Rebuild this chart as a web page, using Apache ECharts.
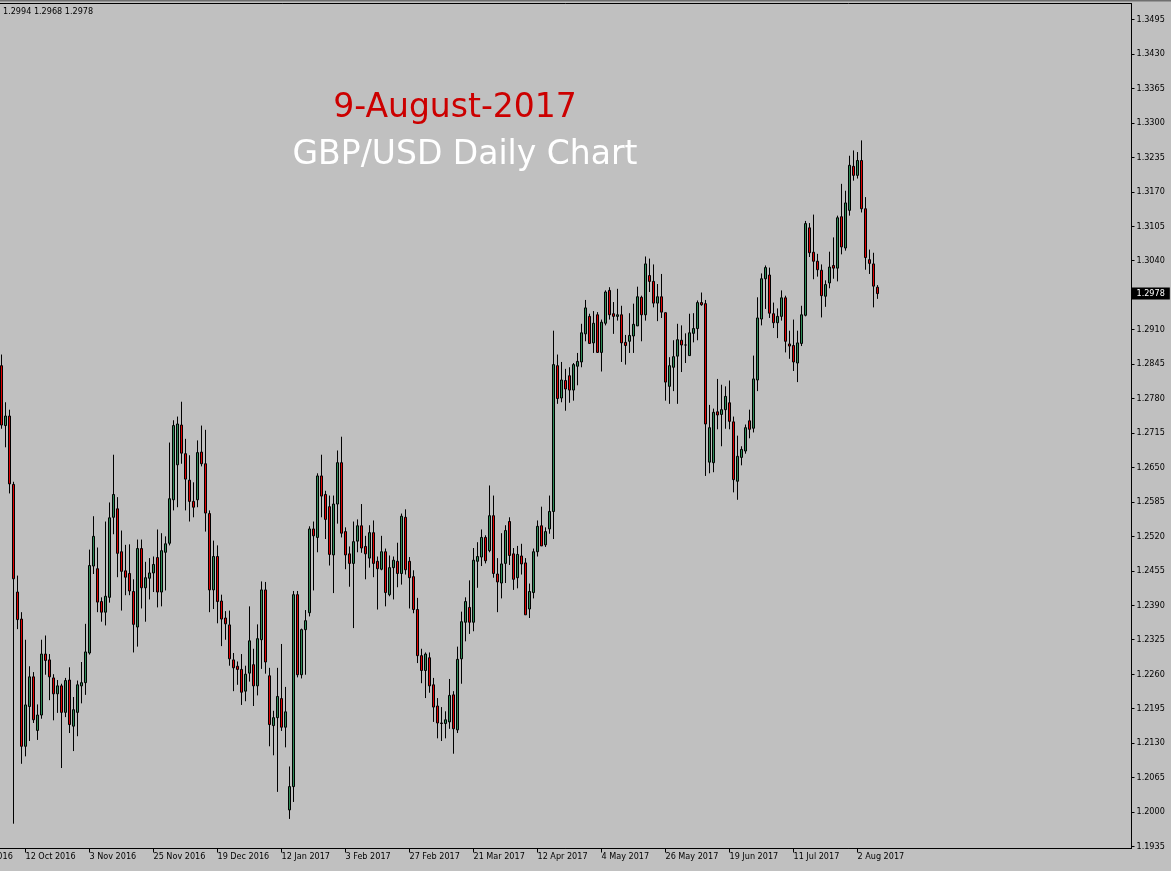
<!DOCTYPE html>
<html><head><meta charset="utf-8">
<script src="https://cdn.jsdelivr.net/npm/echarts@6/dist/echarts.min.js"></script>
<style>html,body{margin:0;padding:0;background:#c0c0c0;overflow:hidden}#c{width:1171px;height:871px;}</style>
</head><body><div id="c"></div>
<script>
// ---- data ----
const tickLabels = ['20 Sep 2016','12 Oct 2016','3 Nov 2016','25 Nov 2016','19 Dec 2016','12 Jan 2017','3 Feb 2017','27 Feb 2017','21 Mar 2017','12 Apr 2017','4 May 2017','26 May 2017','19 Jun 2017','11 Jul 2017','2 Aug 2017'];
const priceTicks = [1.1935,1.2000,1.2065,1.2130,1.2195,1.2260,1.2325,1.2390,1.2455,1.2520,1.2585,1.2650,1.2715,1.2780,1.2845,1.2910,1.2975,1.3040,1.3105,1.3170,1.3235,1.3300,1.3365,1.3430,1.3495];
const headerValues = [1.2994, 1.2968, 1.2978];
const titleDate = '9-August-2017';
const titleMain = 'GBP/USD Daily Chart';

const open = [
1.2842,1.2729,1.2747,1.2618,1.2415,1.2364,1.2124,1.2199,1.2255,1.2154,
1.2183,1.2298,1.2287,1.2253,1.2223,1.2238,1.2188,1.2249,1.2162,1.2188,
1.2238,1.2244,1.2300,1.2464,1.2459,1.2397,1.2377,1.2405,1.2556,1.2572,
1.2491,1.2455,1.2450,1.2416,1.2349,1.2497,1.2423,1.2441,1.2451,1.2480,
1.2415,1.2490,1.2507,1.2589,1.2655,1.2730,1.2676,1.2626,1.2586,1.2589,
1.2679,1.2657,1.2563,1.2419,1.2482,1.2398,1.2366,1.2353,1.2287,1.2275,
1.2269,1.2228,1.2262,1.2278,1.2238,1.2325,1.2419,1.2257,1.2163,1.2178,
1.2214,1.2160,1.2004,1.2048,1.2410,1.2259,1.2344,1.2376,1.2534,1.2518,
1.2634,1.2599,1.2576,1.2485,1.2581,1.2659,1.2529,1.2487,1.2469,1.2511,
1.2540,1.2501,1.2479,1.2527,1.2473,1.2458,1.2491,1.2410,1.2461,1.2473,
1.2450,1.2556,1.2473,1.2444,1.2382,1.2295,1.2267,1.2291,1.2240,1.2200,
1.2168,1.2167,1.2170,1.2221,1.2155,1.2289,1.2358,1.2386,1.2358,1.2473,
1.2481,1.2518,1.2493,1.2559,1.2449,1.2432,1.2469,1.2548,1.2487,1.2442,
1.2483,1.2470,1.2383,1.2414,1.2491,1.2540,1.2504,1.2534,1.2567,1.2842,
1.2781,1.2814,1.2823,1.2796,1.2841,1.2849,1.2902,1.2935,1.2885,1.2938,
1.2867,1.2922,1.2984,1.2940,1.2935,1.2938,1.2886,1.2888,1.2898,1.2917,
1.2971,1.2938,1.3012,1.3001,1.2960,1.2972,1.2942,1.2803,1.2839,1.2860,
1.2890,1.2881,1.2861,1.2903,1.2912,1.2961,1.2959,1.2660,1.2659,1.2755,
1.2750,1.2759,1.2772,1.2736,1.2624,1.2669,1.2681,1.2738,1.2724,1.2815,
1.2930,1.3006,1.3013,1.2940,1.2923,1.2935,1.2970,1.2883,1.2880,1.2847,
1.2884,1.2937,1.3102,1.3056,1.3039,1.3022,1.2973,1.2998,1.3031,1.3026,
1.3123,1.3064,1.3135,1.3218,1.3201,1.3229,1.3138,1.3042,1.3034,1.2990];
const high = [
1.2863,1.2773,1.2759,1.2623,1.2446,1.2377,1.2325,1.2275,1.2264,1.2203,
1.2325,1.2333,1.2298,1.2260,1.2249,1.2242,1.2253,1.2273,1.2217,1.2248,
1.2283,1.2355,1.2495,1.2558,1.2499,1.2405,1.2548,1.2584,1.2674,1.2594,
1.2531,1.2504,1.2505,1.2439,1.2514,1.2514,1.2472,1.2479,1.2482,1.2533,
1.2526,1.2520,1.2697,1.2739,1.2746,1.2774,1.2704,1.2673,1.2622,1.2701,
1.2729,1.2721,1.2569,1.2512,1.2503,1.2410,1.2379,1.2380,1.2300,1.2284,
1.2298,1.2276,1.2388,1.2308,1.2354,1.2435,1.2434,1.2272,1.2191,1.2272,
1.2317,1.2236,1.2086,1.2417,1.2417,1.2346,1.2381,1.2539,1.2548,1.2639,
1.2674,1.2606,1.2597,1.2597,1.2682,1.2708,1.2537,1.2501,1.2548,1.2552,
1.2581,1.2521,1.2541,1.2550,1.2482,1.2521,1.2497,1.2484,1.2482,1.2508,
1.2563,1.2571,1.2481,1.2456,1.2404,1.2308,1.2301,1.2301,1.2253,1.2215,
1.2198,1.2190,1.2251,1.2228,1.2312,1.2378,1.2405,1.2437,1.2498,1.2509,
1.2533,1.2522,1.2616,1.2597,1.2479,1.2526,1.2541,1.2556,1.2498,1.2502,
1.2506,1.2479,1.2431,1.2497,1.2550,1.2576,1.2537,1.2597,1.2908,1.2863,
1.2849,1.2836,1.2839,1.2847,1.2866,1.2921,1.2966,1.2940,1.2945,1.2943,
1.2929,1.2984,1.2990,1.2962,1.2987,1.2955,1.2900,1.2941,1.2959,1.2991,
1.2974,1.3048,1.3044,1.3033,1.2996,1.3015,1.2942,1.2858,1.2890,1.2921,
1.2918,1.2903,1.2940,1.2941,1.2965,1.2980,1.2966,1.2768,1.2761,1.2817,
1.2806,1.2803,1.2814,1.2746,1.2710,1.2690,1.2731,1.2759,1.2861,1.2971,
1.3016,1.3031,1.3027,1.2961,1.2950,1.2984,1.2974,1.2908,1.2929,1.2908,
1.2955,1.3115,1.3111,1.3127,1.3053,1.3033,1.3003,1.3057,1.3084,1.3125,
1.3185,1.3172,1.3238,1.3248,1.3245,1.3267,1.3160,1.3061,1.3055,1.2994];
const low = [
1.2723,1.2688,1.2601,1.1978,1.2345,1.2091,1.2105,1.2134,1.2168,1.2136,
1.2176,1.2259,1.2211,1.2173,1.2187,1.2083,1.2179,1.2149,1.2115,1.2143,
1.2205,1.2221,1.2297,1.2449,1.2377,1.2359,1.2352,1.2395,1.2524,1.2443,
1.2380,1.2409,1.2409,1.2301,1.2312,1.2384,1.2359,1.2401,1.2415,1.2386,
1.2388,1.2418,1.2503,1.2569,1.2575,1.2657,1.2569,1.2548,1.2556,1.2575,
1.2652,1.2529,1.2377,1.2383,1.2356,1.2313,1.2325,1.2276,1.2228,1.2240,
1.2202,1.2209,1.2246,1.2200,1.2220,1.2270,1.2261,1.2124,1.2107,1.2038,
1.2153,1.2122,1.1987,1.2019,1.2254,1.2252,1.2259,1.2369,1.2418,1.2490,
1.2556,1.2515,1.2465,1.2413,1.2544,1.2518,1.2458,1.2425,1.2347,1.2490,
1.2489,1.2439,1.2461,1.2443,1.2382,1.2456,1.2388,1.2407,1.2401,1.2424,
1.2429,1.2448,1.2384,1.2375,1.2281,1.2243,1.2215,1.2225,1.2170,1.2139,
1.2134,1.2139,1.2157,1.2110,1.2149,1.2242,1.2322,1.2336,1.2341,1.2423,
1.2464,1.2469,1.2490,1.2442,1.2377,1.2403,1.2432,1.2466,1.2419,1.2422,
1.2448,1.2372,1.2366,1.2403,1.2482,1.2502,1.2500,1.2525,1.2515,1.2770,
1.2773,1.2757,1.2772,1.2776,1.2805,1.2839,1.2888,1.2883,1.2866,1.2866,
1.2831,1.2918,1.2929,1.2902,1.2927,1.2849,1.2844,1.2866,1.2866,1.2917,
1.2888,1.2927,1.2981,1.2952,1.2926,1.2932,1.2776,1.2770,1.2794,1.2770,
1.2830,1.2847,1.2861,1.2886,1.2890,1.2955,1.2634,1.2639,1.2641,1.2722,
1.2690,1.2723,1.2722,1.2603,1.2589,1.2654,1.2676,1.2705,1.2716,1.2794,
1.2918,1.2949,1.2932,1.2913,1.2894,1.2927,1.2867,1.2855,1.2832,1.2811,
1.2879,1.2935,1.3047,1.3005,1.3010,1.2933,1.2953,1.2988,1.3006,1.3001,
1.3052,1.3059,1.3125,1.3191,1.3195,1.3131,1.3023,1.3015,1.2952,1.2968];
const close = [
1.2730,1.2747,1.2619,1.2440,1.2363,1.2124,1.2202,1.2255,1.2174,1.2183,
1.2298,1.2286,1.2255,1.2223,1.2238,1.2188,1.2248,1.2165,1.2193,1.2240,
1.2244,1.2302,1.2465,1.2520,1.2396,1.2377,1.2407,1.2555,1.2599,1.2488,
1.2454,1.2443,1.2417,1.2354,1.2497,1.2423,1.2442,1.2451,1.2467,1.2415,
1.2493,1.2506,1.2591,1.2729,1.2732,1.2677,1.2628,1.2586,1.2575,1.2678,
1.2657,1.2564,1.2419,1.2482,1.2397,1.2364,1.2355,1.2289,1.2272,1.2269,
1.2226,1.2260,1.2323,1.2238,1.2327,1.2419,1.2283,1.2165,1.2178,1.2218,
1.2160,1.2189,1.2048,1.2410,1.2259,1.2344,1.2361,1.2534,1.2521,1.2634,
1.2596,1.2552,1.2486,1.2581,1.2659,1.2526,1.2485,1.2469,1.2510,1.2540,
1.2498,1.2487,1.2527,1.2469,1.2459,1.2491,1.2414,1.2461,1.2475,1.2450,
1.2558,1.2457,1.2442,1.2382,1.2295,1.2267,1.2298,1.2238,1.2198,1.2168,
1.2167,1.2174,1.2220,1.2157,1.2288,1.2359,1.2397,1.2358,1.2475,1.2482,
1.2518,1.2474,1.2559,1.2450,1.2434,1.2468,1.2531,1.2484,1.2439,1.2486,
1.2468,1.2372,1.2416,1.2491,1.2539,1.2502,1.2529,1.2567,1.2844,1.2780,
1.2815,1.2798,1.2796,1.2844,1.2850,1.2904,1.2951,1.2884,1.2922,1.2867,
1.2924,1.2981,1.2938,1.2935,1.2938,1.2885,1.2880,1.2899,1.2920,1.2972,
1.2938,1.3034,1.3001,1.2960,1.2972,1.2943,1.2811,1.2842,1.2859,1.2891,
1.2881,1.2881,1.2904,1.2912,1.2961,1.2957,1.2732,1.2725,1.2754,1.2749,
1.2759,1.2784,1.2737,1.2627,1.2671,1.2684,1.2725,1.2722,1.2817,1.2932,
1.3006,1.3027,1.2941,1.2923,1.2935,1.2970,1.2888,1.2879,1.2849,1.2885,
1.2938,1.3110,1.3055,1.3039,1.3023,1.2974,1.2995,1.3028,1.3026,1.3121,
1.3066,1.3149,1.3220,1.3201,1.3229,1.3138,1.3046,1.3035,1.2992,1.2978];

// ---- layout config ----
const leadingBars = 10;     // bars scrolled off the left edge (first label is cut)
const totalSlots = 293;     // bars incl. the hidden ones and the right chart shift
const barsPerLabel = 16;
const FONT = "'DejaVu Sans Condensed','DejaVu Sans',sans-serif";

const categories = [];
for (let k = 0; k < totalSlots; k++) {
  const li = k / barsPerLabel;
  categories.push(Number.isInteger(li) && li < tickLabels.length ? tickLabels[li] : '');
}
const candleData = [];
for (let k = 0; k < leadingBars; k++) candleData.push(['-','-','-','-']);
for (let i = 0; i < open.length; i++) candleData.push([open[i], close[i], low[i], high[i]]);

const lastClose = close[close.length - 1];
const showTick = (idx, val) => val !== '';

const chart = echarts.init(document.getElementById('c'), null, {renderer: 'canvas'});
chart.setOption({
  animation: false,
  backgroundColor: '#c0c0c0',
  grid: {left: -40.5, right: 39.5, top: 3.5, bottom: 22.5, containLabel: false, outerBoundsMode: 'none',
         show: true, borderColor: '#000', borderWidth: 1, backgroundColor: 'transparent'},
  xAxis: {
    type: 'category', data: categories, boundaryGap: true,
    axisLine: {show: true, lineStyle: {color: '#000', width: 1}},
    axisTick: {show: true, interval: showTick, alignWithLabel: true, length: 4, lineStyle: {color: '#000'}},
    axisLabel: {show: true, interval: showTick, align: 'left', margin: 4, color: '#000', fontFamily: FONT, fontSize: 9, hideOverlap: false},
    splitLine: {show: false}
  },
  yAxis: {
    type: 'value', position: 'right', min: 1.19312, max: 1.35252, scale: true,
    axisLine: {show: true, lineStyle: {color: '#000', width: 1}},
    axisTick: {show: true, inside: false, length: 3, customValues: priceTicks, lineStyle: {color: '#000'}},
    axisLabel: {show: true, margin: 5, customValues: priceTicks, formatter: v => v.toFixed(4), color: '#000', fontFamily: FONT, fontSize: 9},
    splitLine: {show: false}
  },
  series: [{
    type: 'candlestick',
    data: candleData,
    barWidth: 2,
    clip: false,
    itemStyle: {color: '#2e8b57', color0: '#e00000', borderColor: '#000', borderColor0: '#000', borderWidth: 1},
    markLine: {
      silent: true, symbol: ['none', 'none'], animation: false, precision: 4,
      lineStyle: {color: 'rgba(0,0,0,0)', width: 1, type: 'solid'},
      label: {show: true, position: 'end', distance: 0, formatter: lastClose.toFixed(4), color: '#fff', backgroundColor: '#000', padding: [2, 5, 1, 5], fontFamily: FONT, fontSize: 9},
      emphasis: {disabled: true},
      data: [{yAxis: lastClose}]
    }
  }],
  graphic: [
    {type: 'rect', shape: {x: 0, y: 0, width: 1171, height: 1.5}, style: {fill: '#6e6e6e'}, silent: true},
    {type: 'text', x: 3, y: 12, style: {text: headerValues.map(v => v.toFixed(4)).join(' '), font: "9px " + FONT, fill: '#000', verticalAlign: 'middle', align: 'left'}},
    {type: 'text', x: 455, y: 108, style: {text: titleDate, font: "33px 'DejaVu Sans',sans-serif", fill: '#cc0000', align: 'center', verticalAlign: 'middle'}},
    {type: 'text', x: 465, y: 155, style: {text: titleMain, font: "33px 'DejaVu Sans',sans-serif", fill: '#ffffff', align: 'center', verticalAlign: 'middle'}}
  ]
});
</script></body></html>
